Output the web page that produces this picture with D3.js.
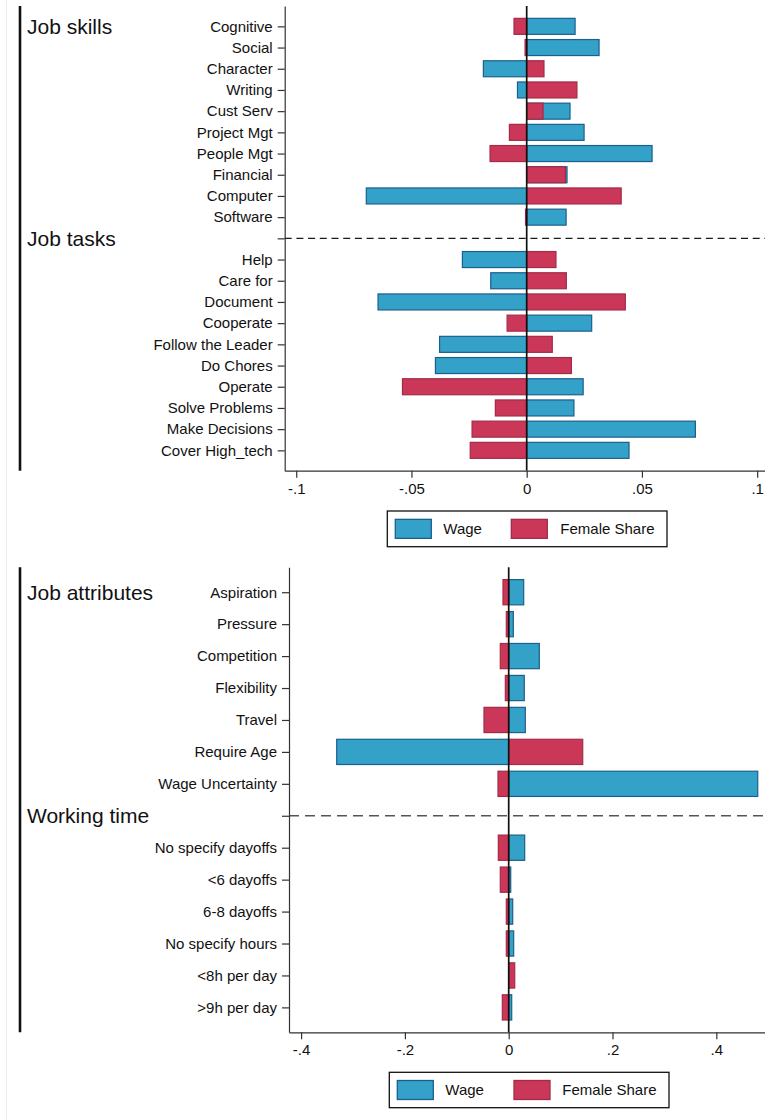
<!DOCTYPE html>
<html>
<head>
<meta charset="utf-8">
<script src="https://cdn.jsdelivr.net/npm/d3@7"></script>
<style>
  html, body { margin: 0; padding: 0; background: #fff; }
  svg { display: block; font-family: "Liberation Sans", Arial, Helvetica, sans-serif; }
</style>
</head>
<body>
<svg id="chart" width="765" height="1120"></svg>
<script>
// ---- Data -------------------------------------------------------------
const skillsCats   = ["Cognitive", "Social", "Character", "Writing", "Cust Serv", "Project Mgt",
                      "People Mgt", "Financial", "Computer", "Software"];
const skillsWage   = [0.0210, 0.0314, -0.0188, -0.0040, 0.0188, 0.0249, 0.0544, 0.0175, -0.0696, 0.0171];
const skillsFemale = [-0.0055, -0.0007, 0.0075, 0.0218, 0.0071, -0.0075, -0.0159, 0.0168, 0.0410, -0.0005];

const tasksCats   = ["Help", "Care for", "Document", "Cooperate", "Follow the Leader", "Do Chores",
                     "Operate", "Solve Problems", "Make Decisions", "Cover High_tech"];
const tasksWage   = [-0.0279, -0.0156, -0.0645, 0.0282, -0.0378, -0.0396, 0.0245, 0.0205, 0.0732, 0.0444];
const tasksFemale = [0.0127, 0.0172, 0.0428, -0.0085, 0.0111, 0.0194, -0.0539, -0.0136, -0.0237, -0.0245];

const attrCats   = ["Aspiration", "Pressure", "Competition", "Flexibility", "Travel", "Require Age",
                    "Wage Uncertainty"];
const attrWage   = [0.0289, 0.0089, 0.0590, 0.0300, 0.0320, -0.3314, 0.4798];
const attrFemale = [-0.0110, -0.0046, -0.0162, -0.0065, -0.0476, 0.1426, -0.0206];

const timeCats   = ["No specify dayoffs", "<6 dayoffs", "6-8 dayoffs", "No specify hours",
                    "<8h per day", ">9h per day"];
const timeWage   = [0.0308, 0.0039, 0.0077, 0.0096, 0.0020, 0.0058];
const timeFemale = [-0.0200, -0.0162, -0.0046, -0.0046, 0.0116, -0.0123];

const topTickValues    = [-0.1, -0.05, 0, 0.05, 0.1];
const topTickLabels    = ["-.1", "-.05", "0", ".05", ".1"];
const bottomTickValues = [-0.4, -0.2, 0, 0.2, 0.4];
const bottomTickLabels = ["-.4", "-.2", "0", ".2", ".4"];

const seriesNames = ["Wage", "Female Share"];

// ---- Styling ----------------------------------------------------------
const BLUE = "#34a1c9", BLUE_EDGE = "#1c5f8c";
const RED = "#cb3759", RED_EDGE = "#a32b46";
const INK = "#111";

const svg = d3.select("#chart");

// faint outer frame line at the left edge
svg.append("line").attr("x1", 6.5).attr("x2", 6.5).attr("y1", 0).attr("y2", 1120)
  .attr("stroke", "#e5eef1").attr("stroke-width", 1);

const panels = [
  {
    groups: [
      { title: "Job skills", cats: skillsCats, wage: skillsWage, female: skillsFemale },
      { title: "Job tasks",  cats: tasksCats,  wage: tasksWage,  female: tasksFemale }
    ],
    top: 6, bottom: 470.7, left: 284.7, right: 765, pad: 0.96,
    xDomain: [-0.105, 0.1034], ticks: topTickValues, tickLabels: topTickLabels,
    barFrac: 0.755, dash: "7,4.7", dashColor: "#1a1a1a",
    legend: { x: 387.3, y: 511, w: 279.7, h: 35.7, sw1: 8, tx1: 56, sw2: 124, tx2: 173 }
  },
  {
    groups: [
      { title: "Job attributes", cats: attrCats, wage: attrWage, female: attrFemale },
      { title: "Working time",   cats: timeCats, wage: timeWage, female: timeFemale }
    ],
    top: 567.3, bottom: 1032.3, left: 289, right: 765, pad: 0.78,
    xDomain: [-0.4233, 0.4938], ticks: bottomTickValues, tickLabels: bottomTickLabels,
    barFrac: 0.79, dash: "10,6", dashColor: "#555",
    legend: { x: 389.3, y: 1072.3, w: 279.7, h: 35.4, sw1: 8, tx1: 56, sw2: 124.7, tx2: 173 }
  }
];

panels.forEach(drawPanel);

function drawPanel(p) {
  // slot list: first group title shares the first row, later group titles get their own row
  const slots = [];
  p.groups.forEach((g, gi) => {
    if (gi > 0) slots.push({ key: "__group" + gi, title: g.title, divider: true });
    g.cats.forEach((c, i) => {
      slots.push({ key: c, label: c, wage: g.wage[i], female: g.female[i],
                   title: (gi === 0 && i === 0) ? g.title : null });
    });
  });

  const y = d3.scalePoint().domain(slots.map(s => s.key)).range([p.top, p.bottom]).padding(p.pad);
  const x = d3.scaleLinear().domain(p.xDomain).range([p.left, p.right]);
  const bh = y.step() * p.barFrac;

  const g = svg.append("g");

  // thick group bracket on the far left
  g.append("line").attr("x1", 20).attr("x2", 20).attr("y1", p.top).attr("y2", p.bottom)
    .attr("stroke", INK).attr("stroke-width", 2.6);

  // group titles
  slots.filter(s => s.title).forEach(s => {
    g.append("text").attr("x", 27).attr("y", y(s.key)).attr("dy", "0.35em")
      .attr("font-size", 21).attr("fill", INK).text(s.title);
  });

  // dashed separators between groups
  slots.filter(s => s.divider).forEach(s => {
    g.append("line").attr("x1", p.left).attr("x2", p.right)
      .attr("y1", y(s.key)).attr("y2", y(s.key))
      .attr("stroke", p.dashColor).attr("stroke-width", 1.3).attr("stroke-dasharray", p.dash);
  });

  const cats = slots.filter(s => !s.divider);

  // bars: wage first, female share drawn over it
  const series = [
    { key: "wage", fill: BLUE, edge: BLUE_EDGE },
    { key: "female", fill: RED, edge: RED_EDGE }
  ];
  series.forEach(se => {
    g.append("g").selectAll("rect").data(cats).join("rect")
      .attr("x", d => x(Math.min(0, d[se.key])))
      .attr("width", d => Math.abs(x(d[se.key]) - x(0)))
      .attr("y", d => y(d.key) - bh / 2)
      .attr("height", bh)
      .attr("fill", se.fill).attr("stroke", se.edge).attr("stroke-width", 1.2);
  });

  // zero reference line
  g.append("line").attr("x1", x(0)).attr("x2", x(0)).attr("y1", p.top).attr("y2", p.bottom)
    .attr("stroke", INK).attr("stroke-width", 1.7);

  // y axis (divider rows get a tick with no label)
  const labelOf = new Map(slots.map(s => [s.key, s.divider ? "" : s.label]));
  const yAxis = g.append("g").attr("transform", `translate(${p.left},0)`)
    .call(d3.axisLeft(y).tickValues(slots.map(s => s.key)).tickFormat(k => labelOf.get(k))
      .tickSizeInner(7).tickSizeOuter(0).tickPadding(5));
  yAxis.select(".domain").attr("stroke", "#333").attr("stroke-width", 1.2);
  yAxis.selectAll(".tick line").attr("stroke", "#333").attr("stroke-width", 1.2);
  yAxis.selectAll(".tick text").attr("font-size", 15).attr("fill", INK)
    .attr("font-family", "Liberation Sans, Arial, sans-serif");

  // x axis
  const xAxis = g.append("g").attr("transform", `translate(0,${p.bottom})`)
    .call(d3.axisBottom(x).tickValues(p.ticks).tickFormat((d, i) => p.tickLabels[i])
      .tickSizeInner(7).tickSizeOuter(0).tickPadding(5.5));
  xAxis.select(".domain").attr("stroke", "#333").attr("stroke-width", 1.2);
  xAxis.selectAll(".tick line").attr("stroke", "#333").attr("stroke-width", 1.2);
  xAxis.selectAll(".tick text").attr("font-size", 15).attr("fill", INK)
    .attr("font-family", "Liberation Sans, Arial, sans-serif");

  // legend
  const L = p.legend;
  const lg = g.append("g").attr("transform", `translate(${L.x},${L.y})`);
  lg.append("rect").attr("x", 0).attr("y", 0).attr("width", L.w).attr("height", L.h)
    .attr("fill", "#fff").attr("stroke", INK).attr("stroke-width", 1.3);
  const items = [
    { name: seriesNames[0], fill: BLUE, edge: BLUE_EDGE, sx: L.sw1, tx: L.tx1 },
    { name: seriesNames[1], fill: RED, edge: RED_EDGE, sx: L.sw2, tx: L.tx2 }
  ];
  items.forEach(it => {
    lg.append("rect").attr("x", it.sx).attr("y", L.h / 2 - 9.5).attr("width", 36).attr("height", 19)
      .attr("fill", it.fill).attr("stroke", it.edge).attr("stroke-width", 1.3);
    lg.append("text").attr("x", it.tx).attr("y", L.h / 2).attr("dy", "0.36em")
      .attr("font-size", 15).attr("fill", INK).text(it.name);
  });
}
</script>
</body>
</html>
